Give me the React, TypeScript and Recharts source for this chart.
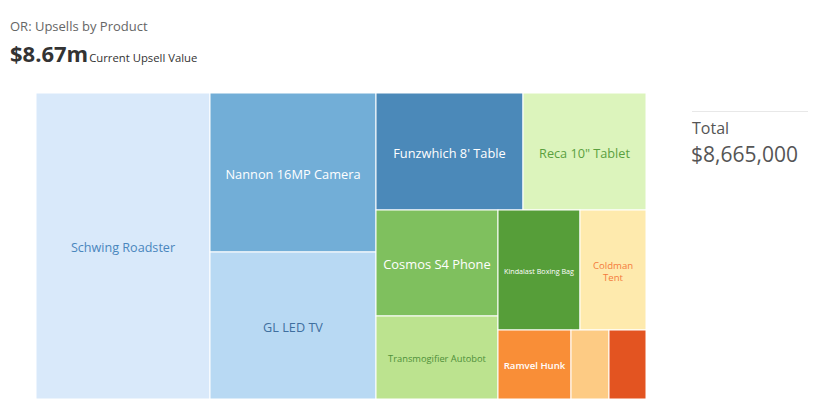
import React from 'react';
import { Treemap } from 'recharts';

const PRODUCTS = [
  'Schwing Roadster',
  'Nannon 16MP Camera',
  'GL LED TV',
  "Funzwhich 8' Table",
  'Reca 10" Tablet',
  'Cosmos S4 Phone',
  'Transmogifier Autobot',
  'Kindalast Boxing Bag',
  'Coldman Tent',
  'Ramvel Hunk',
  'Other A',
  'Other B',
];
const UPSELL_VALUES = [2471000, 1225000, 1133000, 798000, 668000, 600000, 470000, 457000, 368000, 234000, 122000, 119000];
const TOTAL = 8665000;

const FILLS = ['#d9e9fa', '#72aed7', '#b8d9f3', '#4b89b9', '#dcf4bc', '#7fc05e', '#bce38f', '#569e39', '#feeaad', '#f98e37', '#fdcb84', '#e35421'];
const LABEL_COLORS = ['#4a86bd', '#ffffff', '#3f6f9f', '#ffffff', '#5aa03f', '#ffffff', '#4f8f3a', '#ffffff', '#f47b3c', '#ffffff', '#ffffff', '#ffffff'];
const LABEL_SIZES = [12.6, 12.8, 12.7, 12.8, 12.7, 12.9, 9.3, 7.2, 9.6, 9.6, 0, 0];
const LABEL_LINES: string[][] = [
  ['Schwing Roadster'],
  ['Nannon 16MP Camera'],
  ['GL LED TV'],
  ["Funzwhich 8' Table"],
  ['Reca 10" Tablet'],
  ['Cosmos S4 Phone'],
  ['Transmogifier Autobot'],
  ['Kindalast Boxing Bag'],
  ['Coldman', 'Tent'],
  ['Ramvel Hunk'],
  [],
  [],
];

const data = PRODUCTS.map((name, i) => ({ name, value: UPSELL_VALUES[i], idx: i }));

const FONT = '"Open Sans", "Noto Sans", sans-serif';

function Node(props: any) {
  const { x, y, width, height, depth, idx } = props;
  if (depth === 0 || idx === undefined) return null;
  const lines = LABEL_LINES[idx] || [];
  const fs = LABEL_SIZES[idx];
  const lh = fs * 1.25;
  const cx = x + width / 2;
  const cy = y + height / 2 + 1;
  const startY = cy - ((lines.length - 1) * lh) / 2;
  return (
    <g>
      <rect x={x} y={y} width={width} height={height} fill={FILLS[idx]} stroke="#ffffff" strokeWidth={1} />
      {lines.map((l, k) => (
        <text
          key={k}
          x={cx}
          y={startY + k * lh}
          textAnchor="middle"
          dominantBaseline="central"
          fill={LABEL_COLORS[idx]}
          fontSize={fs}
          fontFamily={FONT}
          fontWeight={idx === 9 ? 600 : 400}
          stroke="none"
        >
          {l}
        </text>
      ))}
    </g>
  );
}

export default function App() {
  return (
    <div style={{ position: 'relative', width: 820, height: 420, margin: -8, background: '#fff', fontFamily: FONT, overflow: 'hidden' }}>
      <div style={{ position: 'absolute', left: 10, top: 17, fontSize: 13, color: '#666', whiteSpace: 'nowrap' }}>
        OR: Upsells by Product
      </div>
      <div style={{ position: 'absolute', left: 10, top: 38, whiteSpace: 'nowrap', color: '#333' }}>
        <span style={{ fontSize: 22, fontWeight: 700 }}>$8.67m</span>
        <span style={{ fontSize: 11.3, marginLeft: 1 }}>Current Upsell Value</span>
      </div>
      <div style={{ position: 'absolute', left: 36, top: 93 }}>
        <Treemap
          width={610}
          height={306}
          data={data}
          dataKey="value"
          nameKey="name"
          aspectRatio={1}
          stroke="#fff"
          isAnimationActive={false}
          content={<Node />}
        />
      </div>
      <div style={{ position: 'absolute', left: 692, top: 111, width: 116, borderTop: '1px solid #e8e8e8' }} />
      <div style={{ position: 'absolute', left: 692, top: 117, fontSize: 16, color: '#555' }}>Total</div>
      <div style={{ position: 'absolute', left: 691, top: 140, fontSize: 21, color: '#555' }}>
        ${TOTAL.toLocaleString('en-US')}
      </div>
    </div>
  );
}
